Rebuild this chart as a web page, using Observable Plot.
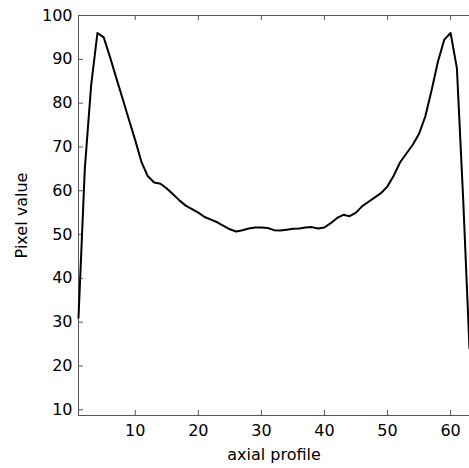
<!DOCTYPE html>
<html>
<head>
<meta charset="utf-8">
<script src="https://cdn.jsdelivr.net/npm/d3@7"></script>
<script src="https://cdn.jsdelivr.net/npm/@observablehq/plot@0.6"></script>
<style>
  html, body { margin: 0; padding: 0; background: #fff; }
  #chart svg { display: block; }
</style>
</head>
<body>
<div id="chart"></div>
<script>
// Axial profile positions (1..63) and pixel values
const positions = d3.range(1, 64);
const pixelValues = [
  31, 65, 84, 96, 95, 90.5, 85.7, 81, 76.2, 71.5,
  66.5, 63.3, 61.9, 61.6, 60.5, 59.2, 57.8, 56.6, 55.8, 55.0,
  54.0, 53.4, 52.8, 52.0, 51.2, 50.7, 51.0, 51.4, 51.6, 51.6,
  51.5, 51.0, 50.9, 51.1, 51.3, 51.4, 51.6, 51.7, 51.4, 51.6,
  52.6, 53.8, 54.5, 54.2, 55.0, 56.5, 57.5, 58.5, 59.5, 61.0,
  63.5, 66.5, 68.5, 70.5, 73.0, 77.0, 83.0, 89.5, 94.5, 96.0,
  88.0, 58.0, 24.0
];
const xTicks = [10, 20, 30, 40, 50, 60];
const yTicks = [10, 20, 30, 40, 50, 60, 70, 80, 90, 100];
const xDomain = [1, 63];
const yDomain = [8.7, 100];
const xLabel = "axial profile";
const yLabel = "Pixel value";

const data = positions.map((x, i) => ({x, y: pixelValues[i]}));

const W = 469, H = 468;
const mL = 78, mR = 0, mT = 15, mB = 53;
const innerW = W - mL - mR, innerH = H - mT - mB;
const axisColor = "#555";
const tickLen = 5;

const chart = Plot.plot({
  width: W,
  height: H,
  marginLeft: mL,
  marginRight: mR,
  marginTop: mT,
  marginBottom: mB,
  style: {fontFamily: "'DejaVu Sans', sans-serif", fontSize: "16px", color: "#000", background: "#fff"},
  x: {domain: xDomain, ticks: xTicks, tickSize: 0, tickPadding: 9, label: null},
  y: {domain: yDomain, ticks: yTicks, tickSize: 0, tickPadding: 6, label: null},
  marks: [
    Plot.frame({stroke: axisColor, strokeWidth: 1}),
    Plot.tickX(xTicks, {x: d => d, stroke: axisColor, insetTop: innerH - tickLen}),
    Plot.tickX(xTicks, {x: d => d, stroke: axisColor, insetBottom: innerH - tickLen}),
    Plot.tickY(yTicks, {y: d => d, stroke: axisColor, insetRight: innerW - tickLen}),
    Plot.line(data, {x: "x", y: "y", stroke: "#000", strokeWidth: 2}),
    Plot.text([xLabel], {text: d => d, frameAnchor: "bottom", textAnchor: "middle", lineAnchor: "middle", dy: 39, fill: "#000", fontSize: 16}),
    Plot.text([yLabel], {text: d => d, frameAnchor: "left", textAnchor: "middle", lineAnchor: "middle", rotate: -90, dx: -57, fill: "#000", fontSize: 16})
  ]
});
document.getElementById("chart").appendChild(chart);
</script>
</body>
</html>
